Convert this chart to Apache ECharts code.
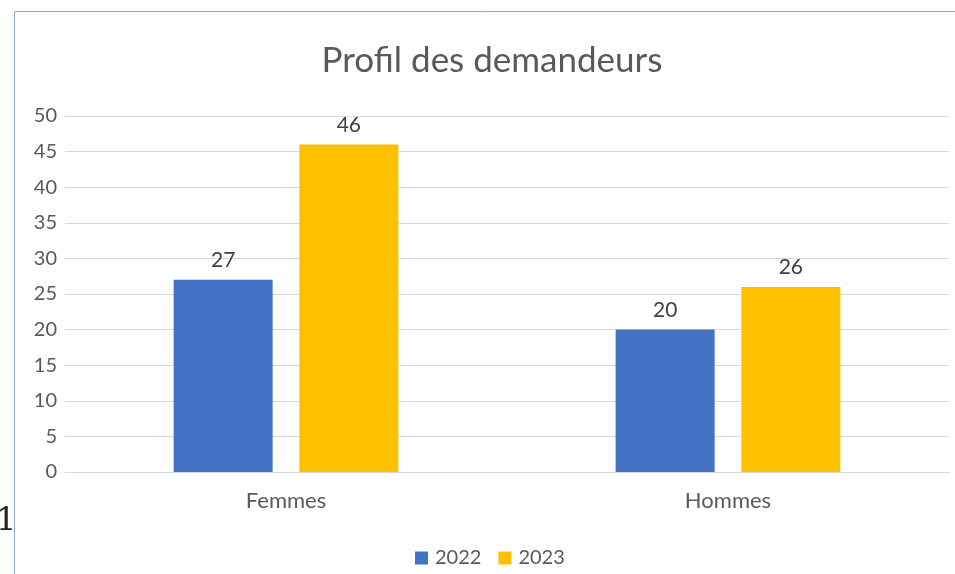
<!DOCTYPE html>
<html><head><meta charset="utf-8">
<script src="https://cdn.jsdelivr.net/npm/echarts@6/dist/echarts.min.js"></script>
<style>html,body{margin:0;padding:0;background:#fff}#c{width:955px;height:574px}</style>
</head><body><div id="c"></div>
<script>
const categories = ['Femmes', 'Hommes'];
const values2022 = [27, 20];
const values2023 = [46, 26];
const seriesNames = ['2022', '2023'];
const chartTitle = 'Profil des demandeurs';

const font = "Lato, 'Open Sans', sans-serif";
const chart = echarts.init(document.getElementById('c'));
const lbl = {show: true, position: 'top', color: '#404040', fontSize: 21, fontFamily: font, distance: 9};
chart.setOption({
  animation: false,
  title: {text: chartTitle, left: 487, top: 38, textAlign: 'center',
    textStyle: {fontFamily: font, fontSize: 35, fontWeight: 'normal', color: '#595959'}},
  legend: {data: seriesNames, bottom: 1, left: 410, itemWidth: 13, itemHeight: 13, itemGap: 17,
    icon: 'rect', textStyle: {fontFamily: font, fontSize: 20, color: '#595959', padding: [0, 0, 0, 2]}},
  grid: {left: 65, right: 6, top: 116, bottom: 102, containLabel: false},
  xAxis: {type: 'category', data: categories,
    axisLine: {lineStyle: {color: '#d9d9d9'}}, axisTick: {show: false},
    axisLabel: {fontFamily: font, fontSize: 22, color: '#595959', margin: 18}},
  yAxis: {type: 'value', min: 0, max: 50, interval: 5,
    axisLine: {show: false}, axisTick: {show: false},
    splitLine: {lineStyle: {color: '#d9d9d9', width: 1}},
    axisLabel: {fontFamily: font, fontSize: 20, color: '#595959', margin: 8}},
  series: [
    {name: seriesNames[0], type: 'bar', data: values2022, barWidth: '22.4%', barGap: '27%',
      itemStyle: {color: '#4472c4'}, label: lbl},
    {name: seriesNames[1], type: 'bar', data: values2023, barWidth: '22.4%',
      itemStyle: {color: '#ffc000'}, label: lbl}
  ],
  graphic: [
    {type: 'polyline', shape: {points: [[14.5, 574], [14.5, 11.5], [955, 11.5]]},
      style: {stroke: '#8eaadb', lineWidth: 1, fill: null}},
    {type: 'text', left: -4, top: 506, style: {text: '1', fontSize: 32, fontFamily: "'DejaVu Serif', serif", fill: '#222', fontWeight: 'lighter'}}
  ]
});
</script></body></html>
